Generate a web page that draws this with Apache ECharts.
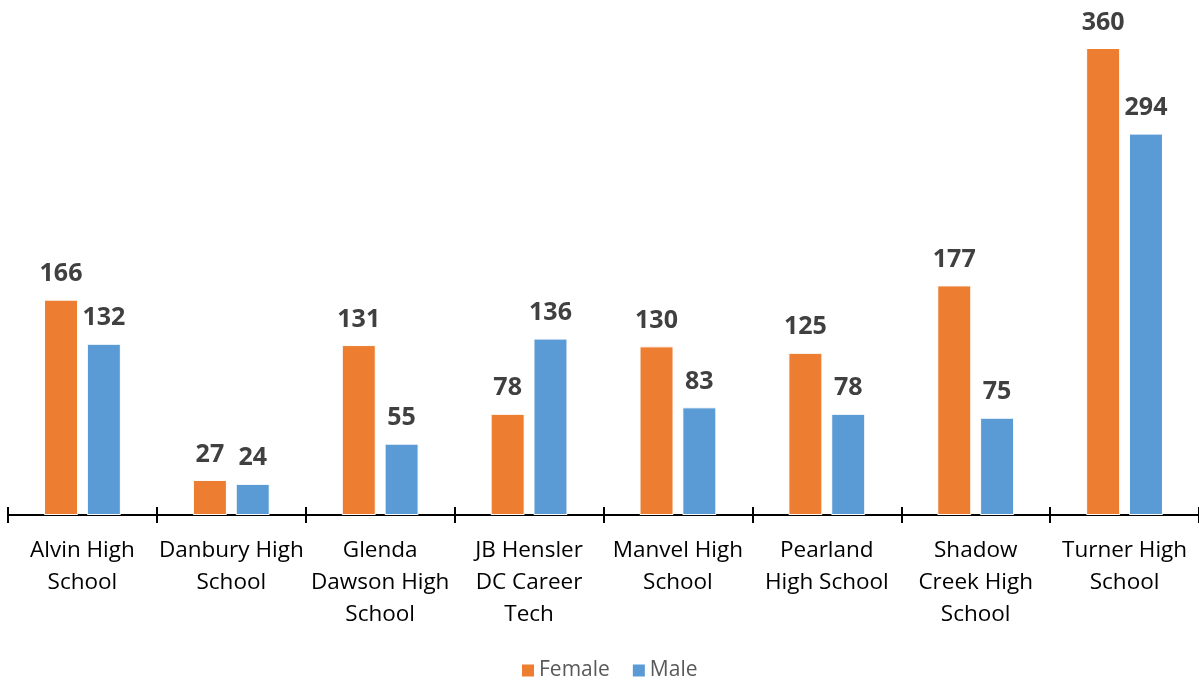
<!DOCTYPE html>
<html><head><meta charset="utf-8">
<script src="https://cdn.jsdelivr.net/npm/echarts@6/dist/echarts.min.js"></script>
<style>html,body{margin:0;padding:0;background:#fff}#c{width:1199px;height:683px}</style>
</head><body><div id="c"></div>
<script>
const categories = ["Alvin High\nSchool","Danbury High\nSchool","Glenda\nDawson High\nSchool","JB Hensler\nDC Career\nTech","Manvel High\nSchool","Pearland\nHigh School","Shadow\nCreek High\nSchool","Turner High\nSchool"];
const female = [166,27,131,78,130,125,177,360];
const male = [132,24,55,136,83,78,75,294];

const chart = echarts.init(document.getElementById('c'));
const font = '"Open Sans", sans-serif';
const lbl = {show:true, position:'top', distance:13, fontFamily:font, fontSize:25, fontWeight:'bold', color:'#404040'};
chart.setOption({
  animation:false,
  grid:{left:8,right:0,top:48,bottom:168,containLabel:false},
  legend:{top:655,left:515,itemWidth:14,itemHeight:14,itemGap:21,icon:'rect',
    textStyle:{fontFamily:font,fontSize:21,color:'#595959',padding:[0,0,0,-1]},data:['Female','Male']},
  xAxis:[{type:'category',data:categories,
    axisLine:{lineStyle:{color:'#000',width:2}},
    axisTick:{show:true,length:8,lineStyle:{color:'#000',width:2}},
    axisLabel:{fontFamily:font,fontSize:22.5,color:'#000',lineHeight:32,margin:20,interval:0}},
    {type:'category',data:categories,position:'bottom',
    axisLine:{show:false},
    axisTick:{show:true,inside:true,length:8,lineStyle:{color:'#000',width:2}},
    axisLabel:{show:false}}],
  yAxis:{type:'value',min:0,max:360,show:false,splitLine:{show:false}},
  series:[
    {name:'Female',type:'bar',data:female,barWidth:34,barGap:'26%',
      itemStyle:{color:'#ED7D31',borderColor:'#fff',borderWidth:1},label:lbl},
    {name:'Male',type:'bar',data:male,barWidth:34,
      itemStyle:{color:'#5B9BD5',borderColor:'#fff',borderWidth:1},label:lbl}
  ]
});
</script></body></html>
